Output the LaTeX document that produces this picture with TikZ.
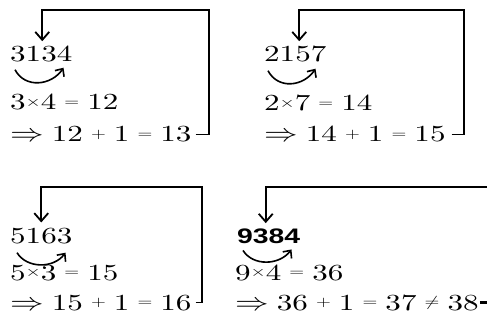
\documentclass[tikz,border=0pt]{standalone}
\usepackage{graphicx}
\usepackage{fontspec}
\setmainfont{lmroman10-regular}[Extension=.otf]
\newfontfamily\numsans{Liberation Sans}
\usetikzlibrary{arrows.meta,calc}

\newcommand\wide[1]{\scalebox{1.35}[1]{\spaceskip 6pt\relax #1}}
\newcommand\op[1]{\raisebox{3.9pt}{\fontsize{14}{14}\selectfont$#1$}}

\begin{document}
\begin{tikzpicture}[x=1pt,y=-1pt,
  every node/.style={inner sep=0pt,anchor=base west,font=\fontsize{23}{27}\selectfont},
  back/.style={line width=1.8pt,-{Straight Barb[length=8pt,width=14pt]},shorten >=5pt},
  carry/.style={line width=1.6pt,-{Straight Barb[length=6pt,width=11pt]}}]
  \useasboundingbox (0,0) rectangle (487,323);
  % 3134
  \node (n1) at (10,62) {\wide{3134}};
  \node (p1) at (10,110) {\wide{3\op{\times}4 \op{=} 12}};
  \node (r1) at (10,142) {\wide{$\Rightarrow$ 12 \op{+} 1 \op{=} 13}};
  \coordinate (k1) at (209,10);
  \draw[back] ([xshift=4pt]r1.east) -| (k1) -| ([xshift=1pt]n1.north);
  \draw[carry] ($(n1.south west)+(5,7)$) .. controls +(10,19) and +(-12,18) .. ($(n1.south east)+(-9,5)$);
  % 2157
  \node (n2) at (264,62) {\wide{2157}};
  \node (p2) at (264,111) {\wide{2\op{\times}7 \op{=} 14}};
  \node (r2) at (264,142) {\wide{$\Rightarrow$ 14 \op{+} 1 \op{=} 15}};
  \coordinate (k2) at (464,10);
  \draw[back] ([xshift=6pt]r2.east) -| (k2) -| ([xshift=4pt]n2.north);
  \draw[carry] ($(n2.south west)+(4,8)$) .. controls +(10,19) and +(-12,18) .. ($(n2.south east)+(-11,6)$);
  % 5163
  \node (n3) at (10,243) {\wide{5163}};
  \node (p3) at (10,280) {\wide{5\op{\times}3 \op{=} 15}};
  \node (r3) at (10,310) {\wide{$\Rightarrow$ 15 \op{+} 1 \op{=} 16}};
  \coordinate (k3) at (202,187);
  \draw[back] ([xshift=4pt]r3.east) -| (k3) -| (n3.north);
  \draw[carry] ($(n3.south west)+(7,9)$) .. controls +(10,16) and +(-12,16) .. ($(n3.south east)+(-7,9)$);
  % 9384
  \node (n4) at (237,243) {\wide{\fontsize{21}{25}\numsans\bfseries 9384}};
  \node (p4) at (235,280) {\wide{9\op{\times}4 \op{=} 36}};
  \node (r4) at (235,310) {\wide{$\Rightarrow$ 36 \op{+} 1 \op{=} 37 \op{\neq} 38}};
  \coordinate (k4) at (487,187);
  \coordinate (e4) at (487,0);
  \draw[back] (k4) -| ([xshift=-3pt]n4.north);
  \draw[line width=2.5pt] ([xshift=1pt]r4.east) -- (r4.east -| e4);
  \draw[carry] ($(n4.south west)+(6,7)$) .. controls +(10,16) and +(-12,16) .. ($(n4.south east)+(-9,6)$);
\end{tikzpicture}
\end{document}
